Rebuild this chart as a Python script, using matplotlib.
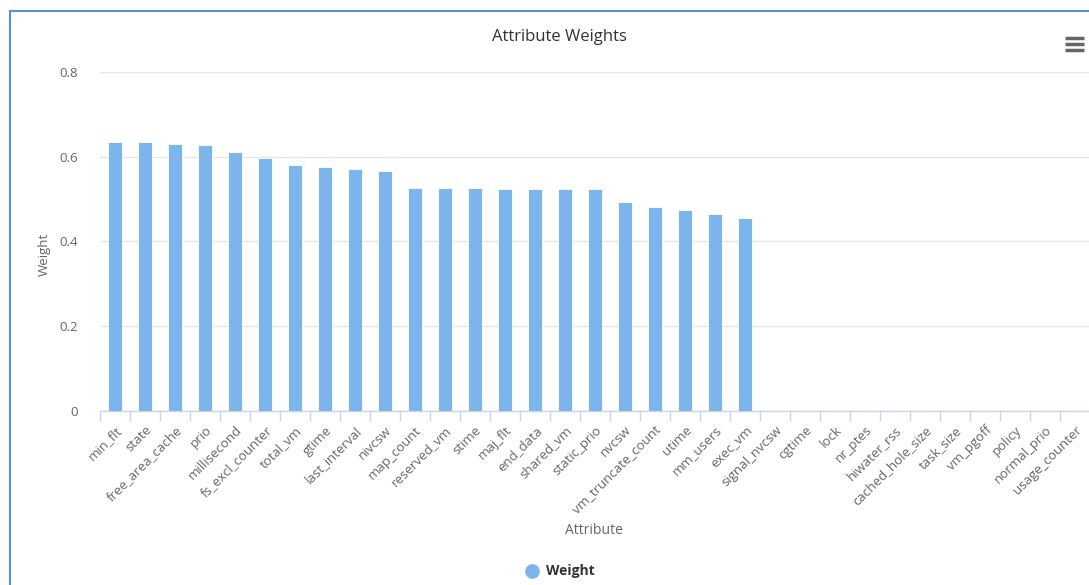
import matplotlib
matplotlib.use("Agg")
import matplotlib.pyplot as plt
from matplotlib.lines import Line2D
from matplotlib.patches import Rectangle

attributes = [
    "min_flt", "state", "free_area_cache", "prio", "millisecond",
    "fs_excl_counter", "total_vm", "gtime", "last_interval", "nivcsw",
    "map_count", "reserved_vm", "stime", "maj_flt", "end_data",
    "shared_vm", "static_prio", "nvcsw", "vm_truncate_count", "utime",
    "mm_users", "exec_vm", "signal_nvcsw", "cgtime", "lock", "nr_ptes",
    "hiwater_rss", "cached_hole_size", "task_size", "vm_pgoff", "policy",
    "normal_prio", "usage_counter",
]
weights = [
    0.635, 0.635, 0.630, 0.627, 0.611,
    0.597, 0.581, 0.575, 0.572, 0.567,
    0.526, 0.526, 0.526, 0.524, 0.524,
    0.524, 0.524, 0.494, 0.482, 0.474,
    0.466, 0.455, 0, 0, 0, 0,
    0, 0, 0, 0, 0,
    0, 0,
]
y_ticks = [0, 0.2, 0.4, 0.6, 0.8]
y_tick_labels = ["0", "0.2", "0.4", "0.6", "0.8"]

W, H = 1089, 585
plt.rcParams["font.family"] = ["Open Sans", "DejaVu Sans"]

fig = plt.figure(figsize=(W / 100, H / 100), dpi=100)
ax = fig.add_axes([100 / W, 1 - 411 / H, 990 / W, 339 / H])

x = list(range(len(attributes)))
ax.bar(x, weights, width=0.47, color="#7cb5ec", edgecolor="white", linewidth=0.6, zorder=3)

ax.set_xlim(-0.5, len(attributes) - 0.5)
ax.set_ylim(0, 0.8)
ax.set_yticks(y_ticks)
ax.set_yticklabels(y_tick_labels, color="#666666", fontsize=9.5)
ax.tick_params(axis="y", length=0, pad=16)
ax.yaxis.grid(True, color="#e6e6e6", linewidth=1, zorder=0)

# labels sit at category centres, tick marks on the boundaries (highcharts style)
ax.set_xticks(x)
ax.set_xticklabels(attributes, rotation=45, ha="right", rotation_mode="anchor",
                   color="#666666", fontsize=9.5)
ax.tick_params(axis="x", length=0, pad=9)
ax.set_xticks([i - 0.5 for i in range(len(attributes) + 1)], minor=True)
ax.tick_params(axis="x", which="minor", length=7.5, color="#ccd6eb", width=1)

for s in ["top", "right", "left"]:
    ax.spines[s].set_visible(False)
ax.spines["bottom"].set_color("#ccd6eb")
ax.spines["bottom"].set_linewidth(1)

fig.text(44 / W, 1 - 254 / H, "Weight", ha="center", va="center", rotation=90,
         color="#666666", fontsize=9.5)
fig.text(594 / W, 1 - 530 / H, "Attribute", ha="center", va="center",
         color="#666666", fontsize=10)

fig.text(559 / W, 1 - 37 / H, "Attribute Weights", ha="center", va="center",
         color="#333333", fontsize=12)

# legend
fig.add_artist(Line2D([532 / W], [1 - 571 / H], marker="o", markersize=9.5,
                      color="#7cb5ec", linestyle="none"))
fig.text(546 / W, 1 - 571 / H, "Weight", ha="left", va="center",
         color="#333333", fontsize=10, fontweight="bold")

# menu icon
for yy in (37.5, 43.5, 49.5):
    fig.add_artist(Line2D([1065 / W, 1084 / W], [1 - yy / H, 1 - yy / H],
                          color="#666666", linewidth=2.5, solid_capstyle="butt"))

# container border
fig.add_artist(Rectangle((9.5 / W, -0.1), 1.2, 1 - 11 / H + 0.1, transform=fig.transFigure,
                         fill=False, edgecolor="#5b8fd8", linewidth=1.5))

fig.savefig("out.png", dpi=100)
